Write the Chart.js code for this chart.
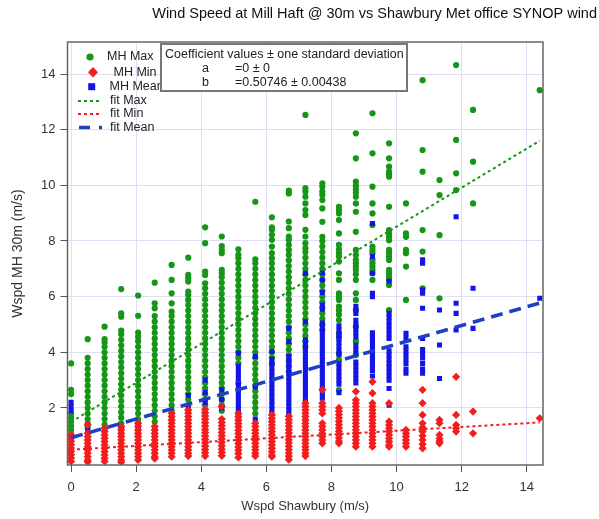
<!DOCTYPE html>
<html>
<head>
<meta charset="utf-8">
<title>Wind Speed at Mill Haft</title>
<script src="https://cdn.jsdelivr.net/npm/chart.js@4.4.0/dist/chart.umd.min.js"></script>
<style>
  html, body { margin: 0; padding: 0; background: #fff; }
  #wrap { width: 599px; height: 519px; }
</style>
</head>
<body>
<div id="wrap"><canvas id="wind_chart" width="599" height="519"></canvas></div>
<script>

// Shawbury speeds (whole knots converted to m/s), one column of points for each
var shawbury = [0, 0.51, 1.03, 1.54, 2.06, 2.57, 3.09, 3.60, 4.12, 4.63, 5.14, 5.66, 6.17,
                6.69, 7.20, 7.72, 8.23, 8.75, 9.26, 9.77, 10.29, 10.80, 11.32, 11.83, 12.35, 14.40];

// MH Max values read for each column
var mhMax = [
  [3.6, 2.65, 2.5, 1.8, 1.65, 1.5, 1.35, 1.2, 1.05],
  [4.47, 3.8, 3.6, 3.4, 3.2, 3.0, 2.8, 2.6, 2.4, 2.2, 2.0, 1.8, 1.6, 1.45, 1.3],
  [4.92, 4.47, 4.35, 4.2, 4.0, 3.8, 3.6, 3.4, 3.2, 3.0, 2.8, 2.6, 2.4, 2.2, 2.0, 1.8, 1.6, 1.4, 1.25],
  [6.27, 5.4, 5.28, 4.78, 4.65, 4.45, 4.25, 4.05, 3.85, 3.65, 3.45, 3.25, 3.05, 2.85, 2.65, 2.45, 2.25, 2.05, 1.85, 1.65, 1.45, 1.3],
  [6.04, 5.31, 4.71, 4.56, 4.4, 4.2, 4.0, 3.8, 3.6, 3.4, 3.2, 3.0, 2.8, 2.6, 2.4, 2.2, 2.0, 1.8, 1.6, 1.45],
  [6.5, 5.76, 5.58, 5.3, 5.1, 4.9, 4.7, 4.5, 4.3, 4.1, 3.9, 3.7, 3.5, 3.3, 3.1, 2.9, 2.7, 2.5, 2.3, 2.1, 1.9, 1.7, 1.5],
  [7.14, 6.6, 6.12, 5.76, 5.46, 5.3, 5.1, 4.9, 4.7, 4.5, 4.3, 4.1, 3.9, 3.7, 3.5, 3.3, 3.1, 2.9, 2.7, 2.5, 2.3, 2.1, 1.9],
  [7.4, 6.78, 6.66, 6.54, 6.18, 6.06, 5.88, 5.7, 5.5, 5.3, 5.1, 4.9, 4.7, 4.5, 4.3, 4.1, 3.9, 3.7, 3.5, 3.3, 3.1, 2.9, 2.7, 2.5, 2.3, 2.1],
  [8.49, 7.92, 6.9, 6.78, 6.48, 6.3, 6.1, 5.9, 5.7, 5.5, 5.3, 5.1, 4.9, 4.7, 4.5, 4.3, 4.1, 3.9, 3.7, 3.5, 3.3, 3.1, 2.9, 2.7, 2.5, 2.3, 2.1],
  [8.16, 7.82, 7.68, 7.56, 6.96, 6.84, 6.7, 6.5, 6.3, 6.1, 5.9, 5.7, 5.5, 5.3, 5.1, 4.9, 4.7, 4.5, 4.3, 4.1, 3.9, 3.7, 3.5, 3.3, 3.1, 2.9, 2.7, 2.5, 2.3, 2.1, 1.9],
  [7.7, 7.5, 7.38, 7.2, 7.0, 6.8, 6.6, 6.4, 6.2, 6.0, 5.8, 5.6, 5.4, 5.2, 5.0, 4.8, 4.6, 4.4, 4.2, 4.0, 3.8, 3.6, 2.9],
  [9.41, 7.34, 7.2, 7.0, 6.8, 6.6, 6.4, 6.2, 6.0, 5.8, 5.6, 5.4, 5.2, 5.0, 4.8, 4.6, 4.4, 4.2, 4.0, 3.8, 3.6, 3.4, 3.2, 3.0, 2.8, 2.6, 2.4, 2.2, 2.0, 1.8],
  [8.85, 8.49, 8.4, 8.22, 8.04, 7.8, 7.56, 7.38, 7.2, 7.0, 6.8, 6.6, 6.4, 6.2, 6.0, 5.8, 5.6, 5.4, 5.2, 5.0, 4.8, 4.6, 4.4, 4.2, 4.0, 3.8, 3.6],
  [9.81, 9.71, 8.7, 8.46, 8.16, 8.04, 7.86, 7.68, 7.5, 7.3, 7.1, 6.9, 6.7, 6.5, 6.3, 6.1, 5.9, 5.7, 5.5, 5.3, 5.1, 4.9, 4.7, 4.5, 4.3, 4.1, 3.9, 3.7, 3.5, 3.3],
  [12.53, 9.9, 9.77, 9.59, 9.35, 9.11, 8.93, 8.4, 8.16, 7.92, 7.74, 7.6, 7.4, 7.2, 7.0, 6.8, 6.6, 6.4, 6.2, 6.0, 5.8, 5.6, 5.4, 5.2, 5.0, 4.8, 4.6, 4.4, 4.2],
  [10.07, 9.95, 9.77, 9.65, 9.47, 9.17, 8.69, 8.15, 8.0, 7.8, 7.6, 7.4, 7.2, 7.0, 6.8, 6.6, 6.4, 6.2, 6.0, 5.8, 5.6, 5.4, 5.2, 5.0, 4.8],
  [9.23, 9.11, 8.99, 8.75, 8.27, 7.86, 7.7, 7.56, 7.44, 7.26, 6.84, 6.6, 6.12, 6.0, 5.88, 5.64, 5.5, 5.35, 5.16, 4.68, 4.55, 3.96, 3.72, 2.64],
  [11.87, 10.97, 10.13, 9.98, 9.85, 9.72, 9.59, 9.35, 9.05, 8.33, 7.68, 7.5, 7.32, 7.2, 7.08, 6.96, 6.8, 6.6, 6.12, 5.88, 5.52, 4.92, 4.4, 3.9],
  [12.59, 11.15, 9.95, 9.35, 8.99, 8.57, 7.8, 7.68, 7.56, 7.32, 7.2, 7.08, 6.96, 6.84, 6.6],
  [11.51, 10.97, 10.67, 10.49, 10.4, 10.31, 9.23, 8.39, 8.27, 8.15, 8.03, 7.68, 7.56, 7.44, 7.32, 6.96, 6.84, 6.72, 6.6, 6.42, 5.52],
  [9.35, 8.27, 8.15, 7.68, 7.56, 7.08, 5.88],
  [13.78, 11.27, 10.49, 8.39, 7.62, 6.3],
  [10.19, 9.65, 8.21, 5.94],
  [14.32, 11.63, 10.43, 9.83],
  [12.71, 10.85, 9.35],
  [13.42]
];

// MH Min values
var mhMin = [
  [1.03, 0.92, 0.8, 0.68, 0.56, 0.44, 0.32, 0.2, 0.08],
  [1.39, 1.09, 0.97, 0.85, 0.73, 0.61, 0.49, 0.37, 0.25, 0.13, 0.06],
  [1.27, 1.15, 1.03, 0.91, 0.79, 0.67, 0.55, 0.43, 0.31, 0.19, 0.08],
  [1.33, 1.21, 1.09, 0.97, 0.85, 0.73, 0.61, 0.49, 0.37, 0.25, 0.13, 0.05],
  [1.45, 1.33, 1.21, 1.09, 0.97, 0.85, 0.73, 0.61, 0.49, 0.37, 0.25, 0.13],
  [1.33, 1.21, 1.09, 0.97, 0.85, 0.73, 0.61, 0.49, 0.37, 0.25, 0.18],
  [1.81, 1.69, 1.57, 1.45, 1.33, 1.21, 1.09, 0.97, 0.85, 0.73, 0.61, 0.49, 0.37, 0.25],
  [1.93, 1.81, 1.69, 1.57, 1.45, 1.33, 1.21, 1.09, 0.97, 0.85, 0.73, 0.61, 0.49, 0.37, 0.27],
  [1.95, 1.83, 1.71, 1.59, 1.47, 1.35, 1.23, 1.11, 0.99, 0.87, 0.75, 0.63, 0.51, 0.39, 0.27],
  [2.05, 1.6, 1.48, 1.36, 1.24, 1.12, 1.0, 0.88, 0.76, 0.64, 0.52, 0.4, 0.28],
  [1.8, 1.68, 1.56, 1.44, 1.32, 1.2, 1.08, 0.96, 0.84, 0.72, 0.6, 0.48, 0.36, 0.22],
  [1.45, 1.33, 1.21, 1.09, 0.97, 0.85, 0.73, 0.61, 0.49, 0.37, 0.27],
  [1.75, 1.63, 1.51, 1.39, 1.27, 1.15, 1.03, 0.91, 0.79, 0.67, 0.55, 0.43, 0.31, 0.25],
  [1.7, 1.58, 1.46, 1.34, 1.22, 1.1, 0.98, 0.86, 0.74, 0.62, 0.5, 0.38, 0.26, 0.14],
  [2.17, 2.05, 1.93, 1.81, 1.69, 1.57, 1.45, 1.33, 1.21, 1.09, 0.97, 0.85, 0.73, 0.61, 0.49, 0.37, 0.27],
  [2.65, 2.17, 2.05, 1.93, 1.8, 1.45, 1.33, 1.21, 1.09, 0.97, 0.85, 0.73],
  [2.0, 1.88, 1.76, 1.64, 1.52, 1.4, 1.28, 1.16, 1.04, 0.92, 0.8, 0.73],
  [2.59, 2.29, 2.17, 2.05, 1.93, 1.81, 1.69, 1.57, 1.45, 1.33, 1.21, 1.09, 0.97, 0.85, 0.73, 0.61],
  [2.94, 2.53, 2.17, 2.05, 1.93, 1.81, 1.69, 1.57, 1.45, 1.33, 1.21, 1.09, 0.97, 0.85, 0.73, 0.61],
  [2.17, 1.51, 1.39, 1.27, 1.15, 1.03, 0.91, 0.79, 0.67, 0.61],
  [1.21, 1.09, 0.97, 0.85, 0.73, 0.61],
  [2.65, 2.17, 1.75, 1.45, 1.3, 1.15, 1.0, 0.85, 0.7, 0.55],
  [1.57, 1.45, 1.03, 0.9, 0.8, 0.73],
  [3.12, 1.75, 1.39, 1.27, 1.15],
  [1.87, 1.09],
  [1.63]
];

// MH Mean values
var mhMean = [
  [2.2, 2.05, 1.9, 0.9],
  [1.2, 0.9],
  [1.2, 1.0],
  [1.25, 1.05],
  [1.4, 1.2],
  [1.3, 1.1],
  [1.7, 1.5],
  [2.45, 2.0, 1.85],
  [3.0, 2.55, 2.2, 1.8],
  [2.65, 2.3, 2.0],
  [3.97, 3.5, 3.35, 3.2, 3.05, 2.85, 2.7, 2.55, 2.4, 2.25, 2.1, 1.95, 1.8, 1.65],
  [3.85, 2.75, 1.6],
  [4.03, 3.75, 3.6, 3.45, 3.3, 3.15, 3.0, 2.85, 2.7, 2.55, 2.4, 2.25, 2.1, 1.95, 1.8],
  [4.86, 4.39, 3.85, 3.7, 3.55, 3.4, 3.25, 3.1, 2.95, 2.8, 2.65, 2.5, 2.35, 2.2, 2.05, 1.9, 1.75],
  [6.84, 5.1, 4.45, 4.3, 4.15, 4.0, 3.85, 3.7, 3.55, 3.4, 3.25, 3.1, 2.95, 2.8, 2.65, 2.5, 2.35, 2.2, 2.05],
  [6.85, 6.6, 6.15, 5.7, 5.55, 5.05, 4.9, 4.75, 4.6, 4.45, 4.3, 4.15, 4.0, 3.85, 3.7, 3.55, 3.4, 3.25, 3.1, 2.95, 2.8, 2.65, 2.5, 2.35],
  [4.95, 4.8, 4.65, 4.5, 4.35, 4.2, 4.05, 3.9, 3.6, 3.45, 3.3, 3.15, 3.0, 2.85, 2.55],
  [5.65, 5.5, 5.4, 5.15, 5.0, 4.85, 4.7, 4.55, 4.25, 4.1, 3.95, 3.65, 3.5, 3.35, 3.2, 3.05, 2.9],
  [8.63, 7.44, 6.84, 6.12, 6.0, 4.7, 4.55, 4.4, 4.25, 4.1, 3.95, 3.8, 3.65, 3.5, 3.35, 3.15],
  [6.55, 5.4, 5.25, 5.1, 4.95, 4.8, 4.65, 4.5, 4.05, 3.9, 3.75, 3.6, 3.45, 3.3, 3.15, 3.0, 2.7, 2.1],
  [4.68, 4.5, 4.2, 4.05, 3.9, 3.75, 3.6, 3.4, 3.25],
  [7.32, 7.2, 6.24, 6.12, 5.58, 4.5, 4.1, 3.95, 3.8, 3.6, 3.4, 3.25],
  [5.52, 4.26, 3.06],
  [8.87, 5.76, 5.4, 4.8],
  [6.3, 4.86],
  [5.94]
];

// fit lines, end points
var fitX = [0, 14.4];
var fitMaxY = [1.5, 11.6];
var fitMinY = [0.5, 1.48];
var fitMeanY = [0.93, 5.77];

var coefLines = [
  ['a', '=0 \u00b1 0'],
  ['b', '=0.50746 \u00b1 0.00438']
];

var xTicksStep = 2;
var yTicksStep = 2;

var GREEN = '#169616';
var RED = '#f21d1d';
var BLUE = '#1414e6';
var BLUE_FIT = '#2040c4';
var FONT = '"Liberation Sans", Arial, Helvetica, sans-serif';


function toPoints(cols){
    var pts = [];
    for (var i = 0; i < cols.length; i++) {
        for (var j = 0; j < cols[i].length; j++) {
            pts.push({x: shawbury[i], y: cols[i][j]});
        }
    }
    return pts;
}

function toLine(ys){
    return fitX.map(function(x, i){ return {x: x, y: ys[i]}; });
}

function pointSet(label, cols, style, radius, color, order){
    return {
        label: label,
        data: toPoints(cols),
        pointStyle: style,
        pointRadius: radius,
        pointHoverRadius: radius,
        pointBackgroundColor: color,
        pointBorderColor: color,
        pointBorderWidth: 0,
        showLine: false,
        order: order
    };
}

function lineSet(label, ys, color, width, dash){
    return {
        label: label,
        data: toLine(ys),
        showLine: true,
        borderColor: color,
        borderWidth: width,
        borderDash: dash,
        pointRadius: 0,
        fill: false,
        order: 0
    };
}

/* legend and coefficient box, drawn the Igor way inside the plot */
var boxPlugin = {
    id: 'igorBoxes',
    afterDraw: function(chart){
        var ctx = chart.ctx;
        var a = chart.chartArea;
        ctx.save();

        ctx.strokeStyle = '#666';
        ctx.lineWidth = 1.5;
        ctx.strokeRect(a.left, a.top, a.right - a.left, a.bottom - a.top);

        ctx.font = '12.5px ' + FONT;
        ctx.textBaseline = 'middle';
        ctx.textAlign = 'left';

        // MH Max
        ctx.fillStyle = GREEN;
        ctx.beginPath(); ctx.arc(90, 57, 3.6, 0, Math.PI * 2); ctx.fill();
        // MH Min
        ctx.fillStyle = RED;
        ctx.beginPath();
        ctx.moveTo(93, 67); ctx.lineTo(98, 72.3); ctx.lineTo(93, 77.6); ctx.lineTo(88, 72.3);
        ctx.closePath(); ctx.fill();
        // MH Mean
        ctx.fillStyle = BLUE;
        ctx.fillRect(88.2, 83.2, 7, 7);

        ctx.lineWidth = 2;
        ctx.setLineDash([3, 3]);
        ctx.strokeStyle = GREEN;
        ctx.beginPath(); ctx.moveTo(78, 101); ctx.lineTo(100, 101); ctx.stroke();
        ctx.strokeStyle = RED;
        ctx.beginPath(); ctx.moveTo(78, 114); ctx.lineTo(100, 114); ctx.stroke();
        ctx.lineWidth = 3.5;
        ctx.setLineDash([11, 9, 3, 9]);
        ctx.strokeStyle = BLUE_FIT;
        ctx.beginPath(); ctx.moveTo(79, 127.5); ctx.lineTo(103, 127.5); ctx.stroke();
        ctx.setLineDash([]);

        ctx.fillStyle = '#222';
        ctx.fillText('MH Max', 107, 57);
        ctx.fillText(' MH Min', 110, 72.5);
        ctx.fillText('MH Mean', 109.5, 87);
        ctx.fillText('fit Max', 110, 101);
        ctx.fillText('fit Min', 110, 114);
        ctx.fillText('fit Mean', 110, 127.5);

        // coefficient box sits over the legend
        ctx.fillStyle = '#fff';
        ctx.fillRect(161, 44, 246, 47);
        ctx.strokeStyle = '#777';
        ctx.lineWidth = 2;
        ctx.strokeRect(161, 44, 246, 47);
        ctx.fillStyle = '#222';
        ctx.fillText('Coefficient values \u00b1 one standard deviation', 165, 54.5);
        for (var i = 0; i < coefLines.length; i++) {
            ctx.fillText(coefLines[i][0], 202, 69 + i * 13.3);
            ctx.fillText(coefLines[i][1], 235, 69 + i * 13.3);
        }
        ctx.restore();
    }
};


function printChart(id){

    var ctx = document.getElementById(id).getContext('2d');
    var chart = new Chart(ctx, {
        type: 'scatter',
        data: {
            datasets: [
                pointSet('MH Max', mhMax, 'circle', 3.1, GREEN, 3),
                pointSet('MH Min', mhMin, 'rectRot', 4.1, RED, 1),
                pointSet('MH Mean', mhMean, 'rect', 3.6, BLUE, 2),
                lineSet('fit Max', fitMaxY, GREEN, 2, [3, 3]),
                lineSet('fit Min', fitMinY, RED, 2, [3, 3]),
                lineSet('fit Mean', fitMeanY, BLUE_FIT, 3.5, [12, 7])
            ]
        },
        options: {
            responsive: false,
            animation: false,
            devicePixelRatio: 1,
            layout: { padding: { left: 0, right: 2, top: 0, bottom: 0 } },
            scales: {
                x: {
                    type: 'linear',
                    min: -0.11,
                    max: 14.5,
                    ticks: { stepSize: xTicksStep, includeBounds: false, color: '#333', padding: 8,
                             font: { size: 13, family: FONT } },
                    grid: { color: '#dedef4', tickColor: '#555', tickLength: 7 },
                    border: { display: false },
                    title: { display: true, text: 'Wspd Shawbury (m/s)', color: '#333',
                             font: { size: 13, family: FONT }, padding: { top: 0, bottom: 5 } },
                    afterFit: function(s){ s.height = 54; }
                },
                y: {
                    type: 'linear',
                    min: -0.05,
                    max: 15.15,
                    ticks: { stepSize: yTicksStep, includeBounds: false, color: '#333', padding: 5,
                             font: { size: 13, family: FONT } },
                    grid: { color: '#dedef4', tickColor: '#555', tickLength: 7 },
                    border: { display: false },
                    title: { display: true, text: 'Wspd MH 30m (m/s)', color: '#333',
                             font: { size: 14, family: FONT }, padding: { top: 10, bottom: 0 } },
                    afterBuildTicks: function(s){
                        s.ticks = s.ticks.filter(function(t){ return t.value > 0; });
                    },
                    afterFit: function(s){ s.width = 67.5; }
                },
                yR: {
                    position: 'right',
                    display: true,
                    grid: { display: false },
                    ticks: { display: false },
                    border: { display: false },
                    afterFit: function(s){ s.width = 54; }
                }
            },
            plugins: {
                legend: { display: false },
                tooltip: { enabled: false },
                title: {
                    display: true,
                    text: 'Wind Speed at Mill Haft @ 30m vs Shawbury Met office SYNOP wind',
                    align: 'end',
                    color: '#111',
                    font: { size: 14.5, weight: 'normal', family: FONT },
                    padding: { top: 5, bottom: 19.6 }
                }
            }
        },
        plugins: [boxPlugin]
    });
    return chart;
}

function init(){
    printChart('wind_chart');
}

init();

</script>
</body>
</html>
